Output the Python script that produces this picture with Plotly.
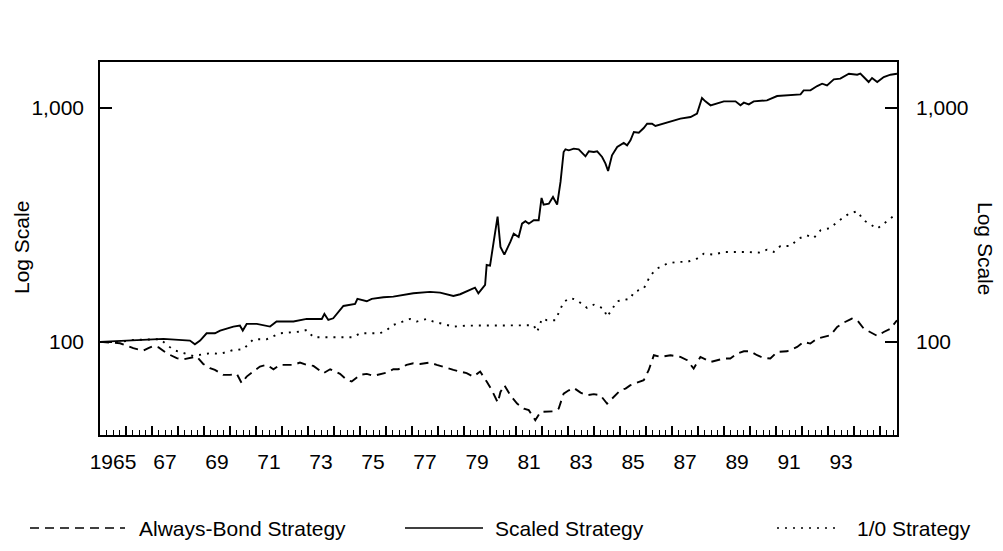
import math
import plotly.graph_objects as go

# ---------------- data ----------------
scaled_years = [1965.00, 1967.44, 1968.46, 1968.65, 1968.85, 1969.10, 1969.42, 1969.62, 1970.13, 1970.38,
                1970.49, 1970.64, 1971.03, 1971.28, 1971.54, 1971.79, 1972.44, 1972.95, 1973.53, 1973.63,
                1973.78, 1973.97, 1974.36, 1974.81, 1974.90, 1975.26, 1975.45, 1975.90, 1976.28, 1977.05,
                1977.69, 1978.08, 1978.59, 1978.85, 1979.10, 1979.42, 1979.55, 1979.81, 1979.87, 1980.00,
                1980.13, 1980.29, 1980.40, 1980.55, 1980.78, 1980.91, 1981.10, 1981.23, 1981.36, 1981.49,
                1981.68, 1981.87, 1981.98, 1982.06, 1982.26, 1982.42, 1982.58, 1982.71, 1982.83, 1982.90,
                1983.03, 1983.22, 1983.41, 1983.67, 1983.80, 1983.99, 1984.12, 1984.31, 1984.44, 1984.54,
                1984.69, 1984.89, 1985.14, 1985.27, 1985.40, 1985.53, 1985.72, 1985.91, 1986.04, 1986.23,
                1986.36, 1986.68, 1986.94, 1987.32, 1987.71, 1987.96, 1988.15, 1988.28, 1988.48, 1988.73,
                1988.99, 1989.44, 1989.63, 1989.76, 1989.95, 1990.14, 1990.65, 1991.04, 1991.55, 1991.94,
                1992.06, 1992.32, 1992.58, 1992.77, 1992.96, 1993.22, 1993.47, 1993.80, 1994.12, 1994.24,
                1994.37, 1994.56, 1994.69, 1994.89, 1995.14, 1995.40, 1995.65]
scaled_values = [100.0, 103.0, 101.3, 97.7, 101.3, 108.9, 108.9, 111.8, 116.3, 117.4,
                 111.8, 119.4, 119.4, 117.8, 116.3, 122.2, 122.2, 125.4, 125.4, 131.8,
                 124.2, 126.2, 142.5, 145.3, 152.7, 149.2, 152.7, 155.2, 156.2, 161.4,
                 163.6, 162.5, 157.3, 159.9, 164.1, 170.7, 161.4, 175.2, 213.3, 212.0,
                 264.1, 343.3, 254.7, 236.1, 267.6, 290.4, 281.0, 320.3, 328.0, 320.3,
                 331.2, 331.2, 412.5, 386.3, 390.1, 416.6, 386.3, 482.9, 648.6, 665.9,
                 659.4, 670.2, 665.9, 621.5, 652.9, 648.6, 652.9, 617.5, 578.2, 538.0,
                 627.7, 681.3, 708.7, 692.7, 727.6, 789.6, 784.3, 821.3, 857.1, 857.1,
                 837.8, 857.1, 877.0, 900.3, 915.3, 946.0, 1103.3, 1067.8, 1026.6, 1043.5,
                 1067.8, 1067.8, 1026.6, 1053.9, 1036.8, 1067.8, 1078.4, 1125.3, 1132.7, 1143.9,
                 1189.9, 1189.9, 1241.7, 1270.6, 1250.0, 1326.0, 1334.9, 1402.0, 1388.3, 1402.0,
                 1356.8, 1291.5, 1343.7, 1291.5, 1356.8, 1388.3, 1402.0]

onezero_years = [1965.00, 1965.77, 1966.28, 1967.31, 1967.82, 1968.59, 1969.23, 1969.62, 1970.13, 1970.51,
                 1970.90, 1971.41, 1971.92, 1972.69, 1972.95, 1973.21, 1973.97, 1974.74, 1975.00, 1975.77,
                 1976.03, 1976.28, 1976.92, 1977.18, 1977.56, 1977.82, 1978.08, 1978.59, 1979.10, 1980.38,
                 1980.91, 1981.68, 1981.81, 1982.00, 1982.19, 1982.51, 1982.83, 1983.09, 1983.35, 1983.73,
                 1983.99, 1984.37, 1984.50, 1984.69, 1984.89, 1985.40, 1985.53, 1985.91, 1986.17, 1986.42,
                 1986.81, 1987.19, 1987.58, 1987.96, 1988.22, 1988.60, 1988.99, 1989.89, 1990.40, 1990.65,
                 1990.91, 1991.17, 1991.55, 1991.87, 1992.19, 1992.45, 1992.71, 1993.09, 1993.35, 1993.80,
                 1994.12, 1994.37, 1994.89, 1995.14, 1995.65]
onezero_values = [100.0, 100.0, 102.0, 102.7, 92.4, 87.1, 89.5, 88.9, 92.4, 93.0,
                  102.7, 102.7, 108.9, 110.7, 112.5, 104.7, 104.7, 104.7, 108.9, 108.9,
                  112.5, 118.2, 125.4, 122.2, 125.4, 122.2, 120.2, 116.3, 117.4, 117.4,
                  117.8, 117.8, 110.3, 125.8, 123.8, 123.8, 148.2, 154.2, 150.7, 139.7,
                  144.3, 138.8, 127.9, 138.8, 149.2, 153.2, 163.6, 169.0, 192.7, 205.8,
                  216.2, 219.8, 219.8, 227.1, 238.5, 236.1, 242.4, 242.4, 240.8, 248.0,
                  242.4, 257.2, 257.2, 276.5, 285.6, 278.3, 300.1, 307.0, 325.8, 353.5,
                  361.7, 331.2, 305.0, 320.3, 355.0]

bond_years = [1965.00, 1965.77, 1966.28, 1966.67, 1966.86, 1967.05, 1967.24, 1967.56, 1967.95, 1968.21,
              1968.72, 1968.97, 1969.23, 1969.42, 1969.74, 1970.00, 1970.26, 1970.45, 1970.64, 1970.90,
              1971.15, 1971.41, 1971.67, 1971.92, 1972.44, 1972.69, 1972.95, 1973.21, 1973.59, 1973.85,
              1974.23, 1974.49, 1974.68, 1975.00, 1975.26, 1975.51, 1975.77, 1976.03, 1976.28, 1976.47,
              1976.79, 1977.05, 1977.31, 1977.69, 1977.95, 1978.33, 1978.59, 1978.85, 1979.10, 1979.36,
              1979.62, 1979.87, 1980.06, 1980.30, 1980.40, 1980.55, 1980.78, 1981.04, 1981.30, 1981.49,
              1981.74, 1981.94, 1982.19, 1982.45, 1982.64, 1982.83, 1983.03, 1983.22, 1983.48, 1983.73,
              1983.99, 1984.24, 1984.50, 1984.69, 1985.01, 1985.21, 1985.40, 1985.65, 1985.91, 1986.10,
              1986.30, 1986.55, 1986.94, 1987.32, 1987.58, 1987.83, 1988.09, 1988.48, 1988.73, 1988.99,
              1989.24, 1989.50, 1989.76, 1990.01, 1990.27, 1990.53, 1990.78, 1991.04, 1991.42, 1991.81,
              1992.06, 1992.32, 1992.58, 1992.83, 1993.09, 1993.35, 1993.60, 1993.92, 1994.12, 1994.37,
              1994.63, 1994.89, 1995.14, 1995.40, 1995.65]
bond_values = [100.0, 98.7, 94.0, 91.8, 94.0, 96.1, 94.9, 89.5, 85.2, 84.3,
               86.6, 80.5, 77.2, 75.9, 72.3, 72.3, 73.0, 66.6, 71.1, 74.7,
               78.5, 79.8, 76.4, 79.8, 79.8, 81.6, 79.8, 79.0, 73.5, 76.4,
               73.0, 68.8, 67.7, 72.3, 73.0, 71.6, 72.7, 73.9, 76.4, 76.4,
               79.8, 81.0, 80.5, 81.6, 79.8, 77.2, 75.9, 74.7, 73.5, 71.1,
               74.7, 67.7, 62.4, 55.0, 61.1, 65.3, 59.2, 54.5, 51.9, 51.1,
               46.3, 50.2, 50.5, 50.5, 51.9, 60.1, 62.1, 63.6, 60.7, 59.2,
               59.8, 59.2, 54.5, 57.2, 62.1, 63.2, 65.3, 67.0, 68.6, 75.7,
               87.7, 86.3, 87.7, 86.3, 83.5, 76.9, 86.3, 82.1, 83.5, 84.9,
               84.9, 89.2, 91.2, 91.2, 87.7, 85.4, 84.9, 90.6, 91.2, 95.2,
               100.0, 98.4, 103.3, 105.1, 106.8, 115.9, 120.9, 125.8, 123.8, 114.0,
               110.3, 106.1, 110.3, 114.0, 123.8]

series_names = ["Always-Bond Strategy", "Scaled Strategy", "1/0 Strategy"]
year_label_vals = [1965.5 + 2 * i for i in range(15)]
year_label_text = ["1965"] + ["%02d" % (67 + 2 * i) for i in range(14)]
y_tick_vals = [100, 1000]
y_tick_text = ["100", "1,000"]
axis_title = "Log Scale"

# ---------------- figure ----------------
FONT = "Liberation Sans, Arial, Helvetica, sans-serif"
X_RANGE = [1965.0, 1995.65]
Y_RANGE = [math.log10(40.0), math.log10(1573.0)]

fig = go.Figure()
fig.add_trace(go.Scatter(x=bond_years, y=bond_values, mode="lines", name=series_names[0],
                         line=dict(color="black", width=1.9, dash="9px,6px"), showlegend=False))
fig.add_trace(go.Scatter(x=scaled_years, y=scaled_values, mode="lines", name=series_names[1],
                         line=dict(color="black", width=1.9), showlegend=False))
fig.add_trace(go.Scatter(x=onezero_years, y=onezero_values, mode="lines", name=series_names[2],
                         line=dict(color="black", width=1.9, dash="2px,6px"), showlegend=False))
# helper trace so the overlay axes (labels on bottom, right mirror axis) are drawn
fig.add_trace(go.Scatter(x=[], y=[], xaxis="x2", yaxis="y2", showlegend=False, hoverinfo="skip"))

fig.update_layout(
    width=995, height=543,
    margin=dict(l=92, r=106, t=54, b=116),
    paper_bgcolor="white", plot_bgcolor="white",
    font=dict(family=FONT, size=21, color="black"),
    xaxis=dict(range=X_RANGE, showgrid=False, zeroline=False,
               showline=True, linecolor="black", linewidth=1.6, mirror=True,
               tickmode="linear", tick0=1965, dtick=1,
               ticks="inside", ticklen=9, tickwidth=1.5, tickcolor="black",
               showticklabels=False,
               minor=dict(ticks="inside", ticklen=5, tickwidth=1.2, tickcolor="black",
                          tick0=1965, dtick=0.25, showgrid=False)),
    xaxis2=dict(range=X_RANGE, overlaying="x", anchor="y", side="bottom",
                showgrid=False, zeroline=False, showline=False, ticks="",
                tickmode="array", tickvals=year_label_vals, ticktext=year_label_text,
                ticklabelstandoff=12, tickfont=dict(size=21)),
    yaxis=dict(type="log", range=Y_RANGE, showgrid=False, zeroline=False,
               showline=True, linecolor="black", linewidth=1.6,
               tickmode="array", tickvals=y_tick_vals, ticktext=y_tick_text,
               ticks="inside", ticklen=12, tickwidth=1.6, tickcolor="black",
               ticklabelstandoff=10, tickfont=dict(size=21)),
    yaxis2=dict(type="log", range=Y_RANGE, overlaying="y", anchor="x", side="right",
                showgrid=False, zeroline=False,
                showline=True, linecolor="black", linewidth=1.6,
                tickmode="array", tickvals=y_tick_vals, ticktext=y_tick_text,
                ticks="inside", ticklen=12, tickwidth=1.6, tickcolor="black",
                ticklabelstandoff=13, tickfont=dict(size=21)),
)

# axis titles
fig.add_annotation(text=axis_title, xref="paper", yref="paper", x=(21 - 100) / 797.0, y=0.5013,
                   xanchor="center", yanchor="middle",
                   showarrow=False, textangle=-90, font=dict(size=21))
fig.add_annotation(text=axis_title, xref="paper", yref="paper", x=(986 - 100) / 797.0, y=0.5013,
                   xanchor="center", yanchor="middle",
                   showarrow=False, textangle=90, font=dict(size=21))

# legend drawn below the plot
LEG_Y = (435 - 528) / 373.0
legend_items = [
    (series_names[0], 30, 125, 137, "9px,6px"),
    (series_names[1], 405, 483, 493, "solid"),
    (series_names[2], 777, 835, 855, "2px,6px"),
]
for name, lx0, lx1, tx, dash in legend_items:
    fig.add_shape(type="line", xref="paper", yref="paper",
                  x0=(lx0 - 100) / 797.0, x1=(lx1 - 100) / 797.0, y0=LEG_Y, y1=LEG_Y,
                  line=dict(color="black", width=1.6, dash=dash))
    fig.add_annotation(text=name, xref="paper", yref="paper", x=(tx - 100) / 797.0, y=LEG_Y,
                       xanchor="left", yanchor="middle", showarrow=False, font=dict(size=21))

fig.write_html("out.html")
